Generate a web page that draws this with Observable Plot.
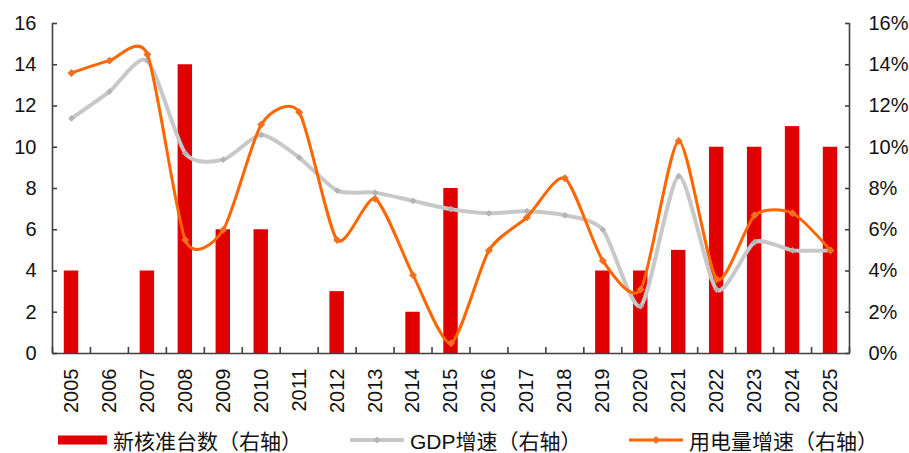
<!DOCTYPE html>
<html>
<head>
<meta charset="utf-8">
<script src="https://cdn.jsdelivr.net/npm/d3@7"></script>
<script src="https://cdn.jsdelivr.net/npm/@observablehq/plot@0.6"></script>
<style>
  html, body { margin: 0; padding: 0; background: #fff; }
  #wrap { position: relative; width: 909px; height: 453px; overflow: hidden;
          font-family: "Liberation Sans", Arial, "Noto Sans CJK SC", sans-serif; }
  #rule { position: absolute; left: 4px; top: 4px; width: 902px; height: 2px; background: #000; }
  #chart { position: absolute; left: 0; top: 0; }
  .item { position: absolute; top: 428px; height: 24px; display: flex; align-items: center;
          font-size: 21px; color: #111; white-space: nowrap; }
  .item svg { margin-right: 6px; }
</style>
</head>
<body>
<div id="wrap">
  <div id="rule"></div>
  <div id="chart"></div>
  <div class="item" style="left:58px">
    <svg width="49" height="10"><rect x="0" y="0.5" width="49" height="9" fill="#e00000"/></svg>新核准台数（右轴）
  </div>
  <div class="item" style="left:350px">
    <svg width="54" height="12"><line x1="0" y1="6" x2="54" y2="6" stroke="#c8c8c8" stroke-width="4"/><path d="M27,2.5L30.5,6L27,9.5L23.5,6Z" fill="#b4b4b4"/></svg>GDP增速（右轴）
  </div>
  <div class="item" style="left:629px">
    <svg width="54" height="12"><line x1="0" y1="6" x2="54" y2="6" stroke="#ff6600" stroke-width="3"/><path d="M27,2L31,6L27,10L23,6Z" fill="#f07020"/></svg>用电量增速（右轴）
  </div>
</div>
<script>
// Years on the category axis
const years = [2005, 2006, 2007, 2008, 2009, 2010, 2011, 2012, 2013, 2014, 2015,
               2016, 2017, 2018, 2019, 2020, 2021, 2022, 2023, 2024, 2025];
// Newly approved nuclear units per year
const approvals = [4, 0, 4, 14, 6, 6, 0, 3, 0, 2, 8, 0, 0, 0, 4, 4, 5, 10, 10, 11, 10];
// GDP growth, %
const gdpGrowth = [11.4, 12.7, 14.2, 9.7, 9.4, 10.6, 9.5, 7.9, 7.8, 7.4, 7.0,
                   6.8, 6.9, 6.7, 6.0, 2.3, 8.6, 3.1, 5.4, 5.0, 5.0];
// Electricity consumption growth, %
const powerGrowth = [13.6, 14.2, 14.5, 5.5, 6.0, 11.1, 11.7, 5.5, 7.5, 3.8, 0.5,
                     5.0, 6.6, 8.5, 4.5, 3.1, 10.3, 3.6, 6.7, 6.8, 5.0];
// Shared value axis ticks (left: units, right: percent)
const yTicks = [0, 2, 4, 6, 8, 10, 12, 14, 16];

const rows = years.map((year, i) => ({
  year, approvals: approvals[i], gdp: gdpGrowth[i], power: powerGrowth[i]
}));

const x0 = years[0] - 0.5, x1 = years[years.length - 1] + 0.5;
const bounds = d3.range(x0, x1 + 0.001, 1);
const half = 0.19; // half bar width in year units
const axisColor = "#404040";
const font = "'Liberation Sans', Arial, sans-serif";
const tickFont = 20;
const smooth = d3.curveCardinal.tension(0.3);

const chart = Plot.plot({
  width: 909,
  height: 420,
  marginLeft: 52,
  marginRight: 60,
  marginTop: 23,
  marginBottom: 67,
  style: { fontFamily: font, fontSize: tickFont + "px", color: "#111", background: "#fff" },
  x: { domain: [x0, x1] },
  y: { domain: [0, 16] },
  marks: [
    Plot.rectY(rows, { x1: d => d.year - half, x2: d => d.year + half, y: "approvals", fill: "#e00000" }),
    Plot.line(rows, { x: "year", y: "gdp", curve: smooth, stroke: "#c8c8c8", strokeWidth: 4 }),
    Plot.dot(rows, { x: "year", y: "gdp", symbol: "diamond2", r: 3, fill: "#b4b4b4", stroke: null }),
    Plot.line(rows, { x: "year", y: "power", curve: smooth, stroke: "#ff6600", strokeWidth: 3 }),
    Plot.dot(rows, { x: "year", y: "power", symbol: "diamond2", r: 3.6, fill: "#f07020", stroke: null }),
    // frame lines
    Plot.ruleY([0], { stroke: axisColor, strokeWidth: 1.6 }),
    Plot.ruleX([x0, x1], { y1: 0, y2: 16, stroke: axisColor, strokeWidth: 1.6 }),
    // y axes with inward ticks
    Plot.axisY(yTicks, { anchor: "left", tickSize: -5, tickPadding: 21, stroke: axisColor, strokeWidth: 1.6,
                         tickFormat: d => String(d), label: null, fontSize: tickFont }),
    Plot.axisY(yTicks, { anchor: "right", tickSize: -5, tickPadding: 24, stroke: axisColor, strokeWidth: 1.6,
                         tickFormat: d => d + "%", label: null, fontSize: tickFont, textAnchor: "start" }),
    // category boundary ticks
    Plot.axisX(bounds, { anchor: "bottom", tickSize: -6, stroke: axisColor, strokeWidth: 1.6,
                         tickFormat: () => "", label: null }),
    // year labels
    Plot.axisX(years, { anchor: "bottom", tickSize: 0, tickPadding: 15, tickRotate: -90,
                        tickFormat: d => String(d), label: null, fontSize: tickFont })
  ]
});
document.getElementById("chart").appendChild(chart);
</script>
</body>
</html>
